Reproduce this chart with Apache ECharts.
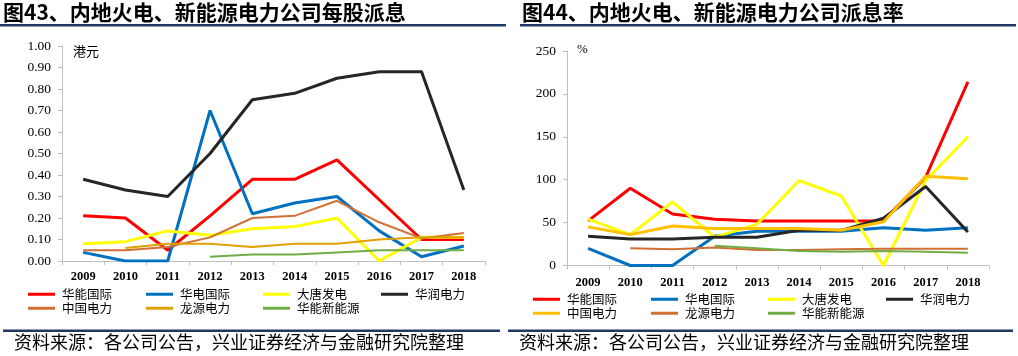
<!DOCTYPE html>
<html><head><meta charset="utf-8">
<script src="https://cdn.jsdelivr.net/npm/echarts@6/dist/echarts.min.js"></script>
<style>html,body{margin:0;padding:0;background:#fff}#c{width:1018px;height:356px}</style>
</head><body><div id="c"></div>
<script>
const years = ['2009','2010','2011','2012','2013','2014','2015','2016','2017','2018'];
const seriesNames = ['华能国际','华电国际','大唐发电','华润电力','中国电力','龙源电力','华能新能源'];
// 每股派息 (港元)
const dpsHuaneng   = [0.21,0.20,0.05,0.21,0.38,0.38,0.47,0.285,0.10,0.10];
const dpsHuadian   = [0.04,0.00,0.00,0.70,0.22,0.27,0.30,0.14,0.02,0.07];
const dpsDatang    = [0.08,0.09,0.14,0.12,0.15,0.16,0.20,0.00,0.11,0.11];
const dpsHuarun    = [0.38,0.33,0.30,0.50,0.75,0.78,0.85,0.88,0.88,0.33];
const dpsZhongguo  = [0.05,0.05,0.065,0.11,0.20,0.21,0.28,0.18,0.105,0.13];
const dpsLongyuan  = [null,0.06,0.08,0.08,0.065,0.08,0.08,0.10,0.11,0.11];
const dpsXinneng   = [null,null,null,0.02,0.03,0.03,0.04,0.05,0.05,0.05];
// 派息率 (%)
const prHuaneng    = [52,90,60,54,52,52,52,52,103,214];
const prHuadian    = [20,0,0,34,40,40,40,44,41,44];
const prDatang     = [54,36,74,33,48,99,81,0,99,150];
const prHuarun     = [34,31,31,33,33,41,41,55,92,39];
const prZhongguo   = [45,36,46,43,43,43,41,51,104,101];
const prLongyuan   = [null,20,19,21,18,18,19,19.5,19.5,19.5];
const prXinneng    = [null,null,null,23,20,17,16,17,16,15];
const leftTicks  = {min:0, max:1, interval:0.1};
const rightTicks = {min:0, max:250, interval:50};

const leftColors  = ['#FF0000','#0070C0','#FFFF00','#262626','#D07034','#E0A000','#70AD47'];
const rightColors = ['#FF0000','#0070C0','#FFFF00','#262626','#FFC000','#D07034','#70AD47'];
const leftWidths  = [3,3,3,3,2,2,2];
const rightWidths = [3,3,3,3,3,2,2];
const leftData  = [dpsHuaneng,dpsHuadian,dpsDatang,dpsHuarun,dpsZhongguo,dpsLongyuan,dpsXinneng];
const rightData = [prHuaneng,prHuadian,prDatang,prHuarun,prZhongguo,prLongyuan,prXinneng];

const chart = echarts.init(document.getElementById('c'));
const numFont = 'Liberation Serif';
const cjk = 'Noto Sans CJK SC';

function xAxis(gi){
  return {type:'category', gridIndex:gi, data:years, boundaryGap:true,
    axisLine:{lineStyle:{color:'#BFBFBF',width:1}},
    axisTick:{show:true,length:4,lineStyle:{color:'#BFBFBF'}},
    axisLabel:{color:'#000',fontFamily:numFont,fontSize:12.5,fontWeight:'bold',margin:gi===0?9:11}};
}
function yAxis(gi,t,fmt){
  return {type:'value', gridIndex:gi, min:t.min, max:t.max, interval:t.interval,
    axisLine:{show:true,lineStyle:{color:'#BFBFBF'}},
    axisTick:{show:true,length:4,lineStyle:{color:'#BFBFBF'}},
    splitLine:{show:false},
    axisLabel:{color:'#000',fontFamily:numFont,fontSize:13.5,margin:11,formatter:fmt}};
}
const series = [];
seriesNames.forEach((n,i)=>{
  series.push({name:n, type:'line', xAxisIndex:0, yAxisIndex:0, data:leftData[i], symbol:'none',
    connectNulls:false, lineStyle:{color:leftColors[i],width:leftWidths[i]}, itemStyle:{color:leftColors[i]}, animation:false});
});
seriesNames.forEach((n,i)=>{
  series.push({name:n+' ', type:'line', xAxisIndex:1, yAxisIndex:1, data:rightData[i], symbol:'none',
    lineStyle:{color:rightColors[i],width:rightWidths[i]}, itemStyle:{color:rightColors[i]}, animation:false});
});

const colX = [28,146,263,381];
const legends = [];
seriesNames.forEach((n,i)=>{
  const col = i<4 ? i : i-4, row = i<4?0:1;
  legends.push({data:[n], left:colX[col], top:(row?309:295)-7, padding:0, itemWidth:27, itemHeight:3, itemGap:0,
    icon:'rect', selectedMode:false, textStyle:{fontFamily:cjk,fontSize:12.5,color:'#000',padding:[0,0,0,2]}});
  legends.push({data:[n+' '], left:colX[col]+505, top:(row?314:300)-7, padding:0, itemWidth:27, itemHeight:3, itemGap:0,
    icon:'rect', selectedMode:false, textStyle:{fontFamily:cjk,fontSize:12.5,color:'#000',padding:[0,0,0,2]}});
});

chart.setOption({
  animation:false,
  grid:[{left:62,top:46,width:423,height:215},{left:567,top:51,width:422,height:214.5}],
  xAxis:[xAxis(0),xAxis(1)],
  yAxis:[yAxis(0,leftTicks,v=>v.toFixed(2)),yAxis(1,rightTicks,v=>String(v))],
  legend:legends,
  series:series,
  graphic:[
    {type:'text',left:3,top:2,style:{text:'图43、内地火电、新能源电力公司每股派息',font:'bold 21px "Noto Sans CJK SC"',fill:'#000'}},
    {type:'text',left:522,top:2,style:{text:'图44、内地火电、新能源电力公司派息率',font:'bold 21px "Noto Sans CJK SC"',fill:'#000'}},
    {type:'rect',shape:{x:0,y:24,width:506,height:2.5},style:{fill:'#1F3864'}},
    {type:'rect',shape:{x:520,y:24,width:496,height:2.5},style:{fill:'#1F3864'}},
    {type:'rect',shape:{x:3,y:329.5,width:497,height:2.5},style:{fill:'#1F3864'}},
    {type:'rect',shape:{x:508,y:329.5,width:505,height:2.5},style:{fill:'#1F3864'}},
    {type:'text',left:14,top:333,style:{text:'资料来源：各公司公告，兴业证券经济与金融研究院整理',font:'18px "Noto Sans CJK SC"',fill:'#000'}},
    {type:'text',left:519,top:333,style:{text:'资料来源：各公司公告，兴业证券经济与金融研究院整理',font:'18px "Noto Sans CJK SC"',fill:'#000'}},
    {type:'text',left:73,top:45,style:{text:'港元',font:'13px "Noto Sans CJK SC"',fill:'#000'}},
    {type:'text',left:577,top:43,style:{text:'%',font:'13px "Liberation Serif"',fill:'#000'}}
  ]
});
</script></body></html>
